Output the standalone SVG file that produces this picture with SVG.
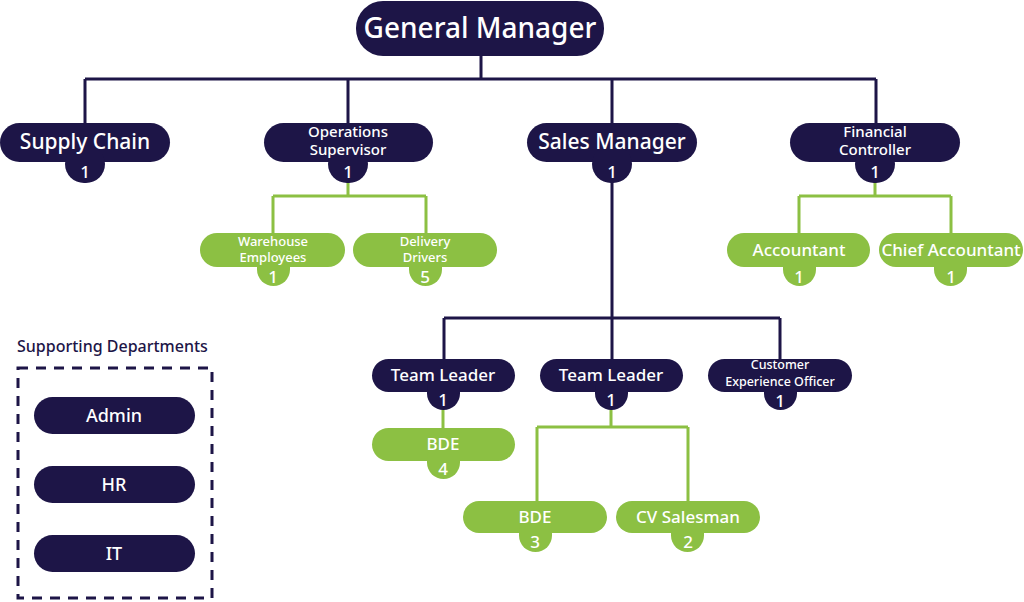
<svg xmlns="http://www.w3.org/2000/svg" width="1024" height="602" viewBox="0 0 1024 602">
<style>
.n{fill:#1d1547}
.g{fill:#8cc043}
text{font-family:"Noto Sans","Open Sans",sans-serif;font-weight:500;fill:#fff;text-anchor:middle}
.t20{font-size:21px}
.t15{font-size:15px}
.t13{font-size:13px}
.t17{font-size:17px}
.num{font-size:17px}
.cn{fill:none;stroke:#1d1547;stroke-width:3}
.cg{fill:none;stroke:#8cc043;stroke-width:3}
</style>
<rect width="1024" height="602" fill="#fff"/>
<g id="connectors">
<path class="cn" d="M481 56V79M85 79H876M85 79V124M348 79V124M612 79V124M876 79V124"/>
<path class="cg" d="M348 180V196M273 196H426M273 196V235M426 196V235"/>
<path class="cg" d="M875 180V196M799 196H951M799 196V235M951 196V235"/>
<path class="cn" d="M612 180V318M444 318H780M444 318V360M612 318V360M780 318V360"/>
<path class="cg" d="M443 408V430"/>
<path class="cg" d="M611 408V427M537 427H688M537 427V503M688 427V503"/>
</g>
<g id="gm"><rect class="n" x="356" y="1" width="248" height="55" rx="27"/><text x="480" y="38" font-size="28">General Manager</text></g>
<g id="supply"><rect class="n" x="0" y="123" width="170" height="39" rx="19.5"/><rect class="n" x="65" y="145" width="40" height="38" rx="19"/><text class="t20" x="85" y="149">Supply Chain</text><text class="num" x="85" y="178">1</text></g>
<g id="ops"><rect class="n" x="264" y="123" width="169" height="39" rx="19.5"/><rect class="n" x="328" y="145" width="40" height="38" rx="19"/><text class="t15" x="348" y="137">Operations</text><text class="t15" x="348" y="155">Supervisor</text><text class="num" x="348" y="178">1</text></g>
<g id="sales"><rect class="n" x="527" y="123" width="170" height="39" rx="19.5"/><rect class="n" x="592" y="145" width="40" height="38" rx="19"/><text class="t20" x="612" y="149">Sales Manager</text><text class="num" x="612" y="178">1</text></g>
<g id="fin"><rect class="n" x="790" y="123" width="170" height="39" rx="19.5"/><rect class="n" x="855" y="145" width="40" height="38" rx="19"/><text class="t15" x="875" y="137">Financial</text><text class="t15" x="875" y="155">Controller</text><text class="num" x="875" y="178">1</text></g>
<g id="warehouse"><rect class="g" x="200" y="233" width="145" height="34" rx="17"/><rect class="g" x="257" y="250" width="33" height="36" rx="16.5"/><text class="t13" x="273" y="246">Warehouse</text><text class="t13" x="273" y="262">Employees</text><text class="num" x="273" y="283">1</text></g>
<g id="drivers"><rect class="g" x="353" y="233" width="144" height="34" rx="17"/><rect class="g" x="409" y="250" width="33" height="36" rx="16.5"/><text class="t13" x="425" y="246">Delivery</text><text class="t13" x="425" y="262">Drivers</text><text class="num" x="425" y="283">5</text></g>
<g id="accountant"><rect class="g" x="727" y="233" width="143" height="34" rx="17"/><rect class="g" x="783" y="250" width="33" height="36" rx="16.5"/><text class="t17" x="799" y="256">Accountant</text><text class="num" x="799" y="283">1</text></g>
<g id="chief"><rect class="g" x="879" y="233" width="144" height="34" rx="17"/><rect class="g" x="934" y="250" width="33" height="36" rx="16.5"/><text class="t17" x="951" y="256">Chief Accountant</text><text class="num" x="951" y="283">1</text></g>
<g id="tl1"><rect class="n" x="372" y="359" width="143" height="33" rx="16.5"/><rect class="n" x="427" y="374" width="33" height="36" rx="16.5"/><text class="t17" x="443" y="381">Team Leader</text><text class="num" x="443" y="406">1</text></g>
<g id="tl2"><rect class="n" x="540" y="359" width="143" height="33" rx="16.5"/><rect class="n" x="595" y="374" width="33" height="36" rx="16.5"/><text class="t17" x="611" y="381">Team Leader</text><text class="num" x="611" y="406">1</text></g>
<g id="ceo"><rect class="n" x="708" y="359" width="144" height="33" rx="16.5"/><rect class="n" x="764" y="374" width="33" height="36" rx="16.5"/><text x="780" y="369" font-size="12.5">Customer</text><text x="780" y="385.5" font-size="12.5">Experience Officer</text><text class="num" x="780" y="407">1</text></g>
<g id="bde4"><rect class="g" x="372" y="428" width="143" height="33" rx="16.5"/><rect class="g" x="427" y="443" width="33" height="36" rx="16.5"/><text class="t17" x="443" y="450">BDE</text><text class="num" x="443" y="475">4</text></g>
<g id="bde3"><rect class="g" x="463" y="501" width="144" height="32" rx="16"/><rect class="g" x="519" y="516" width="33" height="36" rx="16.5"/><text class="t17" x="535" y="523">BDE</text><text class="num" x="535" y="548">3</text></g>
<g id="cvs"><rect class="g" x="616" y="501" width="144" height="32" rx="16"/><rect class="g" x="671" y="516" width="33" height="36" rx="16.5"/><text class="t17" x="688" y="523">CV Salesman</text><text class="num" x="688" y="548">2</text></g>
<g id="support">
<text x="17" y="352" font-size="16" style="fill:#1d1547;text-anchor:start">Supporting Departments</text>
<rect x="18" y="368" width="194" height="230" fill="none" stroke="#1d1547" stroke-width="3" stroke-dasharray="10 8"/>
</g>
<g id="admin"><rect class="n" x="34" y="397" width="161" height="37" rx="18.5"/><text x="114" y="422" font-size="18">Admin</text></g>
<g id="hr"><rect class="n" x="34" y="466" width="161" height="37" rx="18.5"/><text x="114" y="491" font-size="18">HR</text></g>
<g id="it"><rect class="n" x="34" y="535" width="161" height="37" rx="18.5"/><text x="114" y="560" font-size="18">IT</text></g>
</svg>
